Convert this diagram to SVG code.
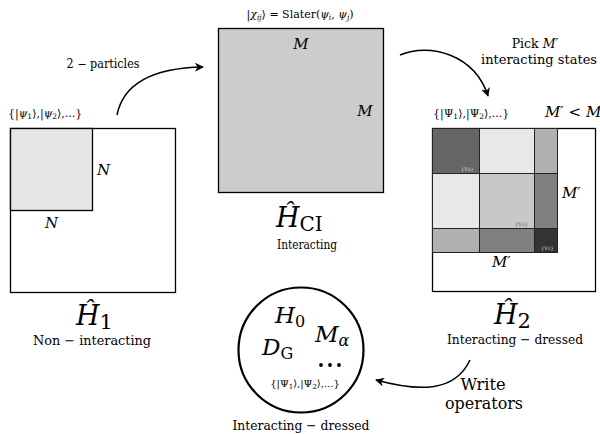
<svg xmlns="http://www.w3.org/2000/svg" width="600" height="434" viewBox="0 0 600 434" font-family="'DejaVu Serif', 'Liberation Serif', 'Times New Roman', serif">
<style>
text{font-family:'DejaVu Serif','Liberation Serif','Times New Roman',serif;fill:#000}
.m{font-style:italic}
.s{font-size:11px}
.lab{font-size:15px}
.cap{font-size:13px}
.big{font-size:27px}
.box{stroke:#000;stroke-width:1.3}
.cell{stroke:#222;stroke-width:1}
.con{fill:none;stroke:#000;stroke-width:1.5}
.tiny{font-size:5px;fill:#ddd}
</style>
<defs>
<marker id="ah" viewBox="0 0 10 10" refX="9" refY="5" markerWidth="6" markerHeight="6" orient="auto" markerUnits="strokeWidth">
<path d="M0,0 L10,5 L0,10 L3,5 z" fill="#000"/>
</marker>
</defs>
<g id="H1">
<rect class="box" x="10.5" y="128.5" width="165" height="164" fill="#fff"/>
<rect class="box" x="10.5" y="128.5" width="82" height="82" fill="#e5e5e5"/>
<text x="8" y="117" class="s">{|<tspan class="m">ψ</tspan><tspan font-size="7.5" dy="2">1</tspan><tspan dy="-2">⟩,|</tspan><tspan class="m">ψ</tspan><tspan font-size="7.5" dy="2">2</tspan><tspan dy="-2">⟩,...}</tspan></text>
<text x="97" y="175" class="lab m">N</text>
<text x="45" y="228" class="lab m">N</text>
<text x="76" y="325" class="big m">Ĥ<tspan font-style="normal" font-size="21" dy="4">1</tspan></text>
<text x="92" y="345" class="cap" text-anchor="middle" textLength="118" lengthAdjust="spacingAndGlyphs">Non − interacting</text>
</g>
<g id="HCI">
<rect class="box" x="218.5" y="28.5" width="165" height="164" fill="#cccccc"/>
<text x="300" y="18" class="s" text-anchor="middle">|<tspan class="m">χ</tspan><tspan font-size="7.5" class="m" dy="2">ij</tspan><tspan dy="-2">⟩ = Slater(</tspan><tspan class="m">ψ</tspan><tspan font-size="7.5" class="m" dy="2">i</tspan><tspan dy="-2">, </tspan><tspan class="m">ψ</tspan><tspan font-size="7.5" class="m" dy="2">j</tspan><tspan dy="-2">)</tspan></text>
<text x="301" y="49" class="lab m" text-anchor="middle">M</text>
<text x="365" y="116" class="lab m" text-anchor="middle">M</text>
<text x="276" y="227" class="big m">Ĥ<tspan font-style="normal" font-size="20" dy="4">CI</tspan></text>
<text x="307" y="249" font-size="12" text-anchor="middle" textLength="60" lengthAdjust="spacingAndGlyphs">Interacting</text>
</g>
<g id="H2">
<rect class="box" x="432.5" y="128.5" width="163" height="163" fill="#fff"/>
<rect class="cell" x="432.5" y="128.5" width="47" height="45" fill="#666"/>
<rect class="cell" x="479.5" y="128.5" width="55" height="45" fill="#e8e8e8"/>
<rect class="cell" x="534.5" y="128.5" width="23" height="45" fill="#b0b0b0"/>
<rect class="cell" x="432.5" y="173.5" width="47" height="55" fill="#e8e8e8"/>
<rect class="cell" x="479.5" y="173.5" width="55" height="55" fill="#c8c8c8"/>
<rect class="cell" x="534.5" y="173.5" width="23" height="55" fill="#808080"/>
<rect class="cell" x="432.5" y="228.5" width="47" height="24" fill="#b0b0b0"/>
<rect class="cell" x="479.5" y="228.5" width="55" height="24" fill="#808080"/>
<rect class="cell" x="534.5" y="228.5" width="23" height="24" fill="#333"/>
<text x="461" y="171" class="tiny">{V<tspan font-size="3.5">G</tspan>}</text>
<text x="515" y="226" class="tiny" style="fill:#555">{V<tspan font-size="3.5">G</tspan>}</text>
<text x="541" y="250" class="tiny">{V<tspan font-size="3.5">G</tspan>}</text>
<text x="433" y="117" class="s">{|Ψ<tspan font-size="7.5" dy="2">1</tspan><tspan dy="-2">⟩,|Ψ</tspan><tspan font-size="7.5" dy="2">2</tspan><tspan dy="-2">⟩,...}</tspan></text>
<text x="545" y="117" class="lab m">M′ <tspan font-style="normal">&lt;</tspan> M</text>
<text x="562" y="198" class="lab m">M′</text>
<text x="492" y="267" class="lab m">M′</text>
<text x="535" y="48" font-size="12.5" text-anchor="middle">Pick <tspan class="m">M′</tspan></text>
<text x="539" y="64" font-size="12.5" text-anchor="middle" textLength="116" lengthAdjust="spacingAndGlyphs">interacting states</text>
<text x="494" y="324" class="big m">Ĥ<tspan font-style="normal" font-size="21" dy="4">2</tspan></text>
<text x="515" y="344" class="cap" text-anchor="middle" textLength="136" lengthAdjust="spacingAndGlyphs">Interacting − dressed</text>
</g>
<g id="ops">
<circle cx="301" cy="350" r="62.5" fill="#fff" stroke="#000" stroke-width="2.2"/>
<text x="275" y="323" font-size="23" class="m">H<tspan font-style="normal" font-size="16" dy="4">0</tspan></text>
<text x="315" y="342" font-size="23" class="m">M<tspan font-size="16" dy="4">α</tspan></text>
<text x="262" y="355" font-size="23" class="m">D<tspan font-style="normal" font-size="16" dy="4">G</tspan></text>
<circle cx="321" cy="365" r="1.9"/><circle cx="330" cy="365" r="1.9"/><circle cx="339" cy="365" r="1.9"/>
<text x="305" y="387" font-size="10" text-anchor="middle">{|Ψ<tspan font-size="7" dy="2">1</tspan><tspan dy="-2">⟩,|Ψ</tspan><tspan font-size="7" dy="2">2</tspan><tspan dy="-2">⟩,...}</tspan></text>
<text x="301" y="430" class="cap" text-anchor="middle" textLength="137" lengthAdjust="spacingAndGlyphs">Interacting − dressed</text>
</g>
<g id="connectors">
<path class="con" d="M117,115 C123,85 150,68 203,67" marker-end="url(#ah)"/>
<text x="103" y="68" font-size="12" text-anchor="middle" textLength="73" lengthAdjust="spacingAndGlyphs">2 − particles</text>
<path class="con" d="M400,55 C430,42 475,55 488,96" marker-end="url(#ah)"/>
<path class="con" d="M470,360 C455,392 420,392 376,380" marker-end="url(#ah)"/>
<text x="483" y="390" font-size="16" text-anchor="middle" textLength="45" lengthAdjust="spacingAndGlyphs">Write</text>
<text x="484" y="409" font-size="16" text-anchor="middle" textLength="78" lengthAdjust="spacingAndGlyphs">operators</text>
</g>
</svg>
